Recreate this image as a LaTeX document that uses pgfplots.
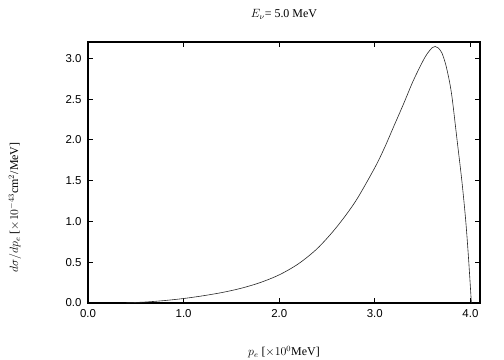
\documentclass[border=0pt]{standalone}
\usepackage{fontspec}
\setmainfont{Liberation Serif}
\newfontfamily\sansf{Liberation Sans}
\usepackage{pgfplots}
\pgfplotsset{compat=1.18}
\begin{document}
\begin{tikzpicture}
\begin{axis}[
  at={(0,0)}, anchor=south west,
  scale only axis, width=392bp, height=261bp,
  xmin=0, xmax=4.1, ymin=0, ymax=3.2,
  xtick={0,1,2,3,4}, ytick={0,0.5,1,1.5,2,2.5,3},
  tick align=inside, major tick length=5bp,
  axis line style={line width=1.4bp},
  tick style={line width=0.8bp, black},
  ticklabel style={font=\sansf\fontsize{11.5}{13}\selectfont},
  /pgf/number format/assume math mode=true,
  xticklabel style={/pgf/number format/.cd, fixed, fixed zerofill, precision=1},
  yticklabel style={/pgf/number format/.cd, fixed, fixed zerofill, precision=1},
  xtick pos=both, ytick pos=both,
  xticklabel shift=3bp, yticklabel shift=3bp,
  title={$E_\nu$= 5.0 MeV},
  title style={at={(rel axis cs:0.5,1)}, anchor=center, yshift=22bp, font=\fontsize{12}{14}\selectfont},
  xlabel={$p_e$ [$\times10^0$MeV]},
  xlabel style={at={(rel axis cs:0.5,0)}, anchor=center, yshift=-49bp, font=\fontsize{12}{14}\selectfont},
  ylabel={$d\sigma/dp_e$ [$\times10^{-43}$cm$^2$/MeV]},
  ylabel style={at={(rel axis cs:0,0.5)}, anchor=center, xshift=-35bp, yshift=73bp, font=\fontsize{12}{14}\selectfont},
]
\addplot[black!85, line width=0.6bp, smooth, tension=0.5] coordinates {
(0.40,0.002) (0.60,0.012) (0.80,0.030) (1.00,0.055) (1.20,0.088) (1.40,0.128)
(1.60,0.180) (1.80,0.250) (2.00,0.345) (2.20,0.480) (2.40,0.670) (2.60,0.930)
(2.80,1.250) (3.00,1.660) (3.10,1.900) (3.20,2.170) (3.30,2.440) (3.40,2.720)
(3.50,2.960) (3.55,3.060) (3.60,3.130) (3.63,3.145) (3.66,3.130) (3.70,3.070)
(3.74,2.930) (3.78,2.720) (3.81,2.500) (3.86,2.000) (3.91,1.500) (3.95,1.020)
(3.98,0.550) (4.01,0.000)
};
\end{axis}
\pgfresetboundingbox
\useasboundingbox (-88bp,-57bp) rectangle (416bp,303bp);
\end{tikzpicture}
\end{document}
